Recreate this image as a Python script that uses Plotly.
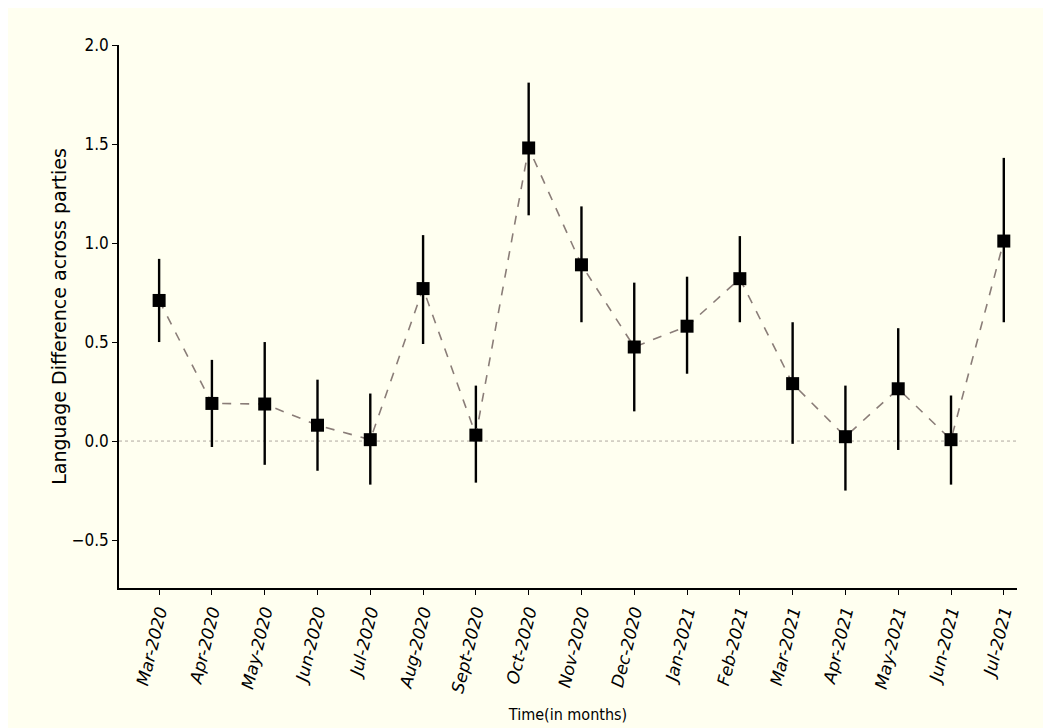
import plotly.graph_objects as go

months = ["Mar-2020", "Apr-2020", "May-2020", "Jun-2020", "Jul-2020", "Aug-2020",
          "Sept-2020", "Oct-2020", "Nov-2020", "Dec-2020", "Jan-2021", "Feb-2021",
          "Mar-2021", "Apr-2021", "May-2021", "Jun-2021", "Jul-2021"]
values = [0.71, 0.19, 0.187, 0.08, 0.007, 0.77, 0.03, 1.48, 0.89, 0.475, 0.58, 0.82,
          0.29, 0.022, 0.264, 0.007, 1.01]
upper = [0.92, 0.41, 0.50, 0.31, 0.24, 1.04, 0.28, 1.81, 1.185, 0.80, 0.83, 1.035,
         0.60, 0.28, 0.57, 0.23, 1.43]
lower = [0.50, -0.03, -0.12, -0.15, -0.22, 0.49, -0.21, 1.14, 0.60, 0.15, 0.34, 0.60,
         -0.014, -0.25, -0.045, -0.22, 0.60]
y_ticks = [-0.5, 0.0, 0.5, 1.0, 1.5, 2.0]
y_tick_text = ["\u22120.5", "0.0", "0.5", "1.0", "1.5", "2.0"]

err_plus = [u - v for u, v in zip(upper, values)]
err_minus = [v - l for v, l in zip(values, lower)]
xs = list(range(len(months)))

cond = "Liberation Sans Narrow, DejaVu Sans Condensed, DejaVu Sans"

fig = go.Figure()
fig.add_trace(go.Scatter(
    x=xs, y=values, mode="lines+markers",
    line=dict(color="#8a7d78", width=1.6, dash="dash"),
    marker=dict(symbol="square", size=13, color="black"),
    error_y=dict(type="data", symmetric=False, array=err_plus, arrayminus=err_minus,
                 color="black", thickness=2.4, width=0),
    showlegend=False,
))
fig.add_hline(y=0, line=dict(color="#b0a8a0", width=1, dash="dot"), layer="below")

fig.update_layout(
    width=1051, height=728,
    paper_bgcolor="#fffff0", plot_bgcolor="#fffff0",
    margin=dict(l=111, r=42, t=37, b=148),
    xaxis=dict(
        range=[-0.76, 16.25], tickmode="array", tickvals=xs, ticktext=months,
        tickangle=-76, showgrid=False, zeroline=False,
        showline=True, linecolor="black", linewidth=1.5,
        ticks="outside", ticklen=5, tickcolor="black",
        tickfont=dict(family="DejaVu Sans", size=17, color="black", style="italic"),
        title=dict(text="Time(in months)", font=dict(family=cond, size=16, color="black"),
                   standoff=15),
    ),
    yaxis=dict(
        range=[-0.742, 2.0], tickmode="array", tickvals=y_ticks, ticktext=y_tick_text,
        showgrid=False, zeroline=False,
        showline=True, linecolor="black", linewidth=1.5,
        ticks="outside", ticklen=5, tickcolor="black",
        tickfont=dict(family=cond, size=17, color="black"),
        title=dict(text="Language Difference across parties",
                   font=dict(family="DejaVu Sans", size=19, color="black"), standoff=0),
    ),
)

fig.write_html("out.html")
